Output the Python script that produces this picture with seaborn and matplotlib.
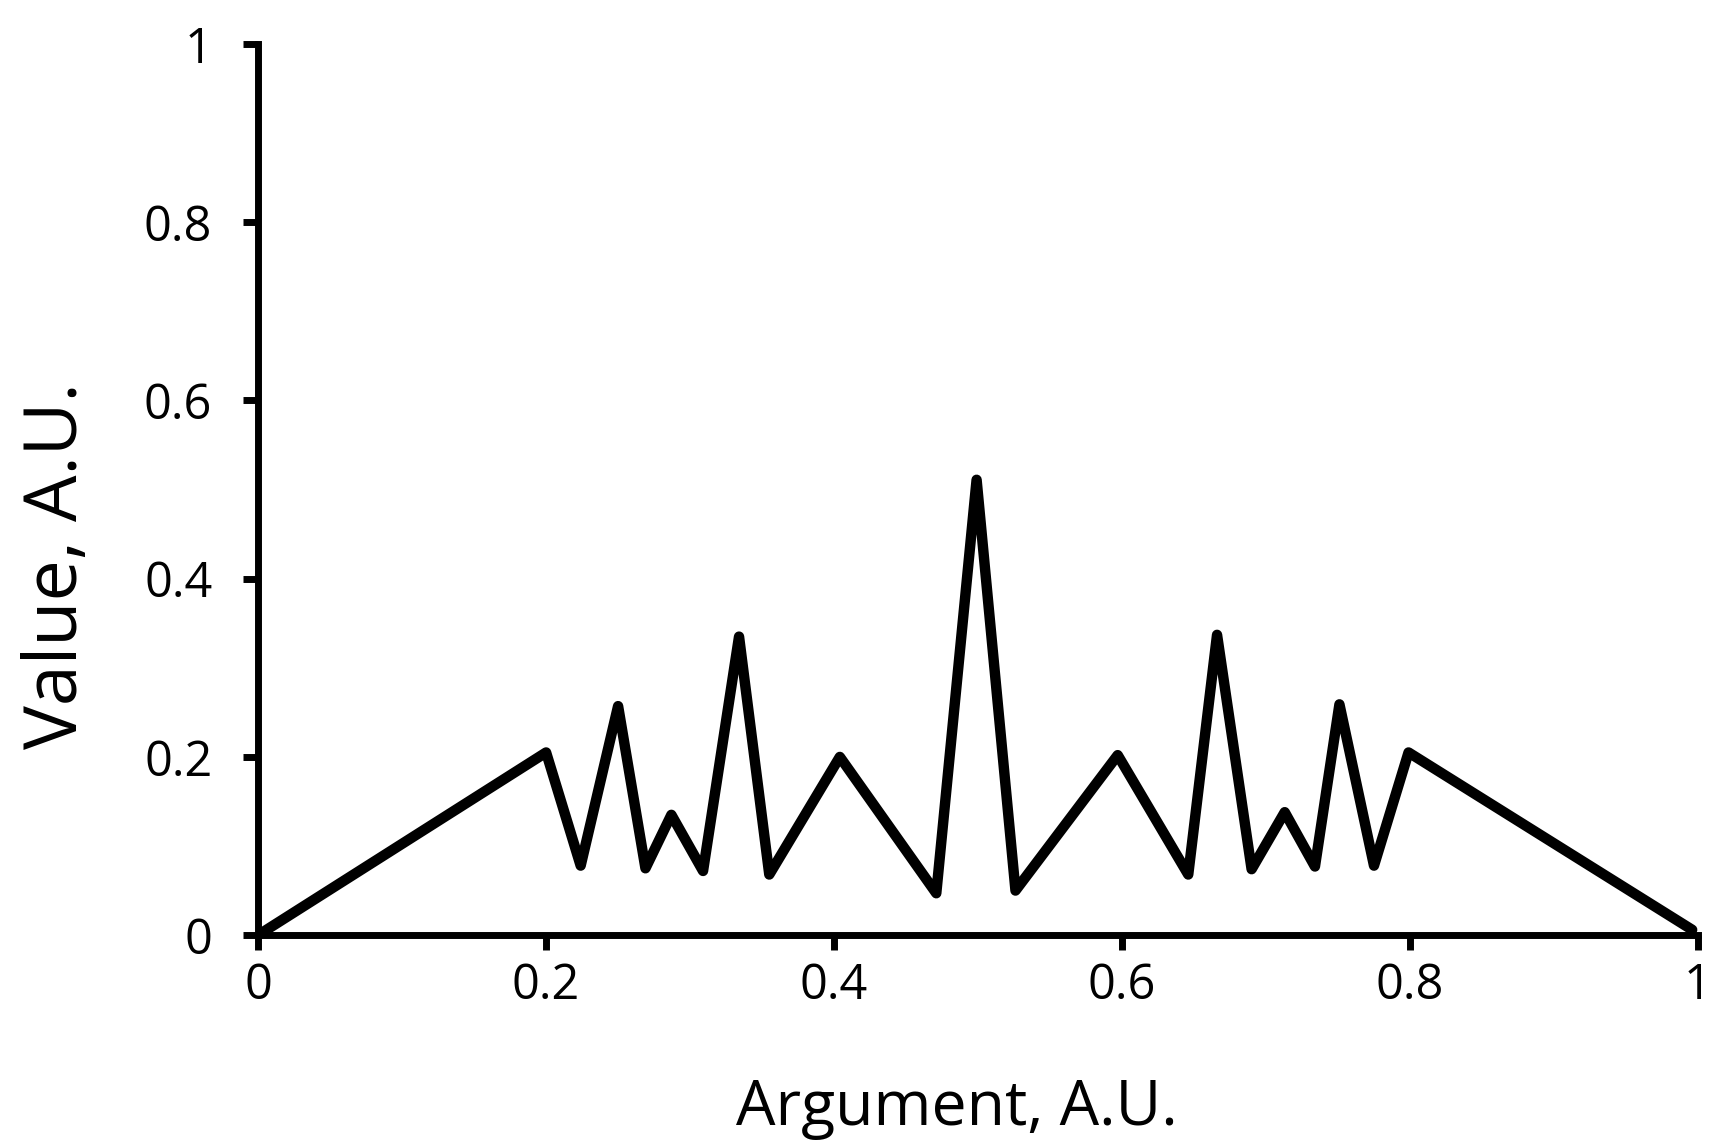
"""
Thomae-like sawtooth curve, recreated with seaborn
"""

import pandas as pd
import seaborn as sns
import matplotlib.pyplot as plt

# Data
argument = [0.0, 0.200, 0.224, 0.250, 0.269, 0.287, 0.309, 0.334, 0.355, 0.404,
            0.471, 0.499, 0.526, 0.597, 0.646, 0.666, 0.690, 0.713, 0.734, 0.751,
            0.775, 0.799, 0.996]
value = [0.0, 0.205, 0.078, 0.257, 0.075, 0.135, 0.072, 0.335, 0.068, 0.200,
         0.047, 0.511, 0.050, 0.202, 0.068, 0.337, 0.074, 0.138, 0.077, 0.259,
         0.078, 0.205, 0.006]
x_ticks = [0, 0.2, 0.4, 0.6, 0.8, 1]
x_tick_labels = ['0', '0.2', '0.4', '0.6', '0.8', '1']
y_ticks = [0, 0.2, 0.4, 0.6, 0.8, 1]
y_tick_labels = ['0', '0.2', '0.4', '0.6', '0.8', '1']

df = pd.DataFrame({'Argument': argument, 'Value': value})

sns.set_style('ticks')
plt.rcParams['font.family'] = ['Open Sans', 'DejaVu Sans']

fig = plt.figure(figsize=(17.21, 11.46), dpi=100)
ax = fig.add_axes([0.150, 0.184, 0.8366, 0.7776])

sns.lineplot(data=df, x='Argument', y='Value', color='black', linewidth=7.5,
             sort=False, ax=ax)

ax.set_xlim(0, 1)
ax.set_ylim(0, 1)
ax.set_xticks(x_ticks)
ax.set_xticklabels(x_tick_labels)
ax.set_yticks(y_ticks)
ax.set_yticklabels(y_tick_labels)

# only left and bottom axes, thick black
sns.despine(ax=ax)
for side in ['left', 'bottom']:
    ax.spines[side].set_linewidth(5)
    ax.spines[side].set_color('black')
ax.tick_params(axis='both', direction='out', length=11, width=5,
               labelsize=35, colors='black', labelcolor='black')
ax.tick_params(axis='y', pad=22)
ax.tick_params(axis='x', pad=8)

# labels sit a bit off-centre in the original
ax.set_xlabel('Argument, A.U.', fontsize=45, color='black', labelpad=48, x=0.485)
ax.set_ylabel('Value, A.U.', fontsize=53, color='black', labelpad=35, y=0.415)

fig.savefig('out.png', dpi=100)
